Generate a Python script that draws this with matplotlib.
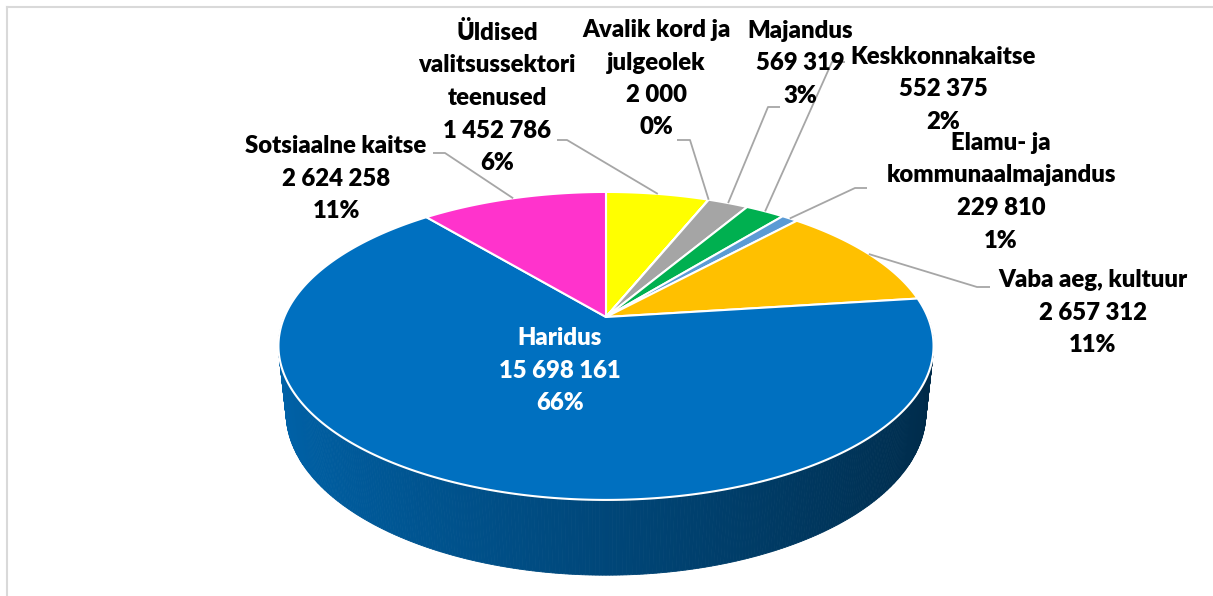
import numpy as np
import matplotlib.pyplot as plt
from matplotlib.patches import Polygon

# data, clockwise from 12 o'clock (Excel order)
categories = ['Üldised\nvalitsussektori\nteenused', 'Avalik kord ja\njulgeolek', 'Majandus',
              'Keskkonnakaitse', 'Elamu- ja\nkommunaalmajandus', 'Vaba aeg, kultuur',
              'Haridus', 'Sotsiaalne kaitse']
values = [1452786, 2000, 569319, 552375, 229810, 2657312, 15698161, 2624258]
pct_labels = ['6%', '0%', '3%', '2%', '1%', '11%', '66%', '11%']
colors = ['#FFFF00', '#C0504D', '#A5A5A5', '#00B050', '#5B9BD5', '#FFC000', '#0070C0', '#FF33CC']

# label layout (pixel coords): text centre x, first line y, leader elbow start/end
label_pos = [(497, 33), (656, 30), (800, 31), (943, 57), (1001, 143), (1093, 280), (560, 338), (336, 146)]
leader_start = [(557, 140), (677, 140), (780, 107), (845, 62), (867, 188), (990, 287), None, (433, 153)]
leader_elbow = [(567, 140), (690, 140), (768, 107), (832, 62), (855, 188), (977, 287), None, (445, 153)]
text_colors = ['black'] * 6 + ['white', 'black']

# 3d pie geometry (perspective)
CX, CY = 606, 317
S = 321.7
D = 4.72
phi = np.radians(27.5)
H = 0.235


def proj(x, y, z):
    depth = D + y * np.cos(phi) - z * np.sin(phi)
    u = S * x * D / depth
    v = S * (y * np.sin(phi) + z * np.cos(phi)) * D / depth
    return CX + u, CY - v


def shade(c, f):
    rgb = np.array(plt.matplotlib.colors.to_rgb(c))
    return tuple(np.clip(rgb * f, 0, 1))


fig = plt.figure(figsize=(12.13, 5.96), dpi=100)
ax = fig.add_axes([0, 0, 1, 1])
ax.set_xlim(0, 1213)
ax.set_ylim(596, 0)
ax.axis('off')

# chart area border
ax.plot([7, 1213], [7, 7], color='#D9D9D9', lw=1.5)
ax.plot([7, 7], [7, 596], color='#D9D9D9', lw=1.5)

vals = np.array(values, dtype=float)
frac = vals / vals.sum()
cum = np.concatenate([[0], np.cumsum(frac)])
theta_start = 90 - 360 * cum[:-1]
theta_end = 90 - 360 * cum[1:]

# side of the cylinder (front half), back to front
steps = np.arange(-180, 0.01, 0.5)
for a1, a2 in zip(steps[:-1], steps[1:]):
    am = (a1 + a2) / 2
    # which slice owns this angle
    t = ((90 - am) % 360) / 360
    idx = np.searchsorted(cum, t, side='right') - 1
    idx = min(idx, len(values) - 1)
    r1, r2 = np.radians(a1), np.radians(a2)
    pts = [proj(np.cos(r1), np.sin(r1), 0), proj(np.cos(r2), np.sin(r2), 0),
           proj(np.cos(r2), np.sin(r2), -H), proj(np.cos(r1), np.sin(r1), -H)]
    f = 0.63 - 0.25 * np.cos(np.radians(am))
    col = shade(colors[idx], f)
    ax.add_patch(Polygon(pts, closed=True, facecolor=col, edgecolor=col, lw=0.6))

# top face wedges
for i in range(len(values)):
    n = max(2, int(abs(theta_end[i] - theta_start[i]) * 2))
    th = np.radians(np.linspace(theta_start[i], theta_end[i], n))
    pts = [proj(0, 0, 0)] + [proj(np.cos(a), np.sin(a), 0) for a in th]
    ax.add_patch(Polygon(pts, closed=True, facecolor=colors[i], edgecolor='white',
                         lw=1.5, joinstyle='round'))

# leader lines
for i in range(len(values)):
    if leader_start[i] is None:
        continue
    mid = np.radians((theta_start[i] + theta_end[i]) / 2)
    ex, ey = proj(np.cos(mid), np.sin(mid), 0)
    xs = [leader_start[i][0], leader_elbow[i][0], ex]
    ys = [leader_start[i][1], leader_elbow[i][1], ey]
    ax.plot(xs, ys, color='#A6A6A6', lw=1.3, solid_capstyle='butt')

# data labels
pitch = 32.5
for i in range(len(values)):
    lines = categories[i].split('\n') + ['{:,}'.format(values[i]).replace(',', ' '), pct_labels[i]]
    x0, y0 = label_pos[i]
    for j, line in enumerate(lines):
        ax.text(x0, y0 + j * pitch, line, ha='center', va='center', fontsize=17.2,
                fontweight='heavy', family=['Lato', 'DejaVu Sans'], color=text_colors[i])

fig.savefig('out.png', dpi=100)
